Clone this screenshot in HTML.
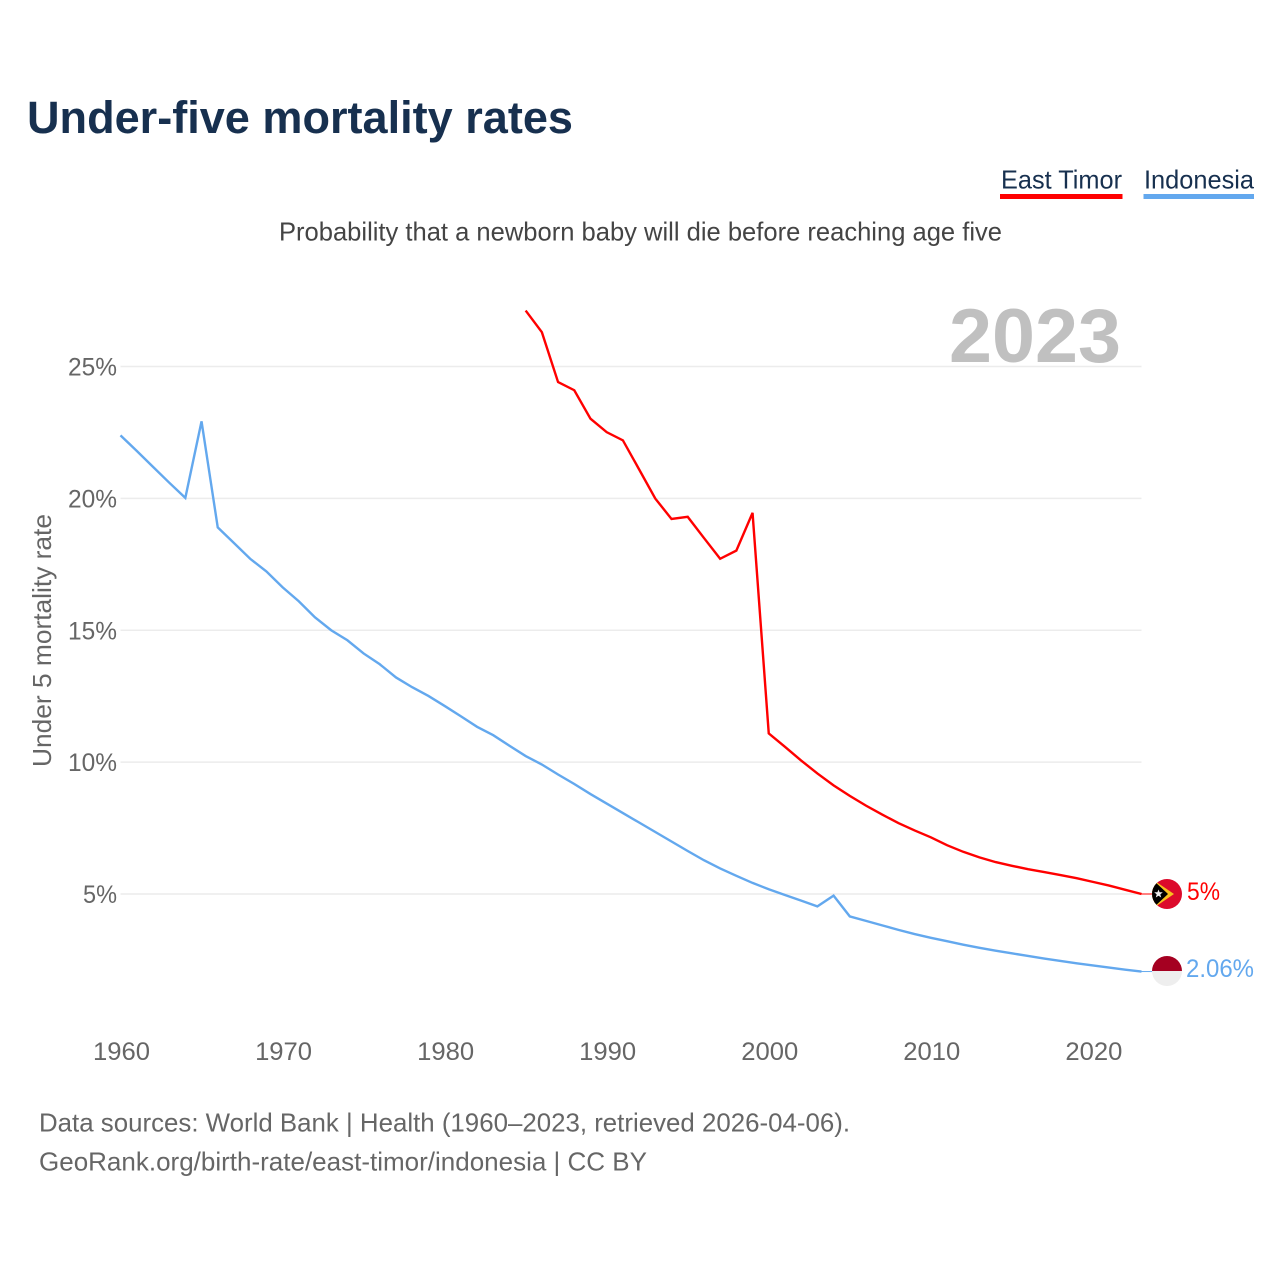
<!DOCTYPE html>
<html lang="en">
<head>
<meta charset="utf-8">
<title>Under-five mortality rates</title>
<style>
  html, body { margin: 0; padding: 0; background: #fff; }
  svg { display: block; font-family: "Liberation Sans", sans-serif; }
</style>
</head>
<body>
<svg id="chart" xmlns="http://www.w3.org/2000/svg" width="1280" height="1280" viewBox="0 0 1280 1280">
  <rect x="0" y="0" width="1280" height="1280" fill="#ffffff"/>
  <text x="27" y="133" font-size="45" font-weight="700" fill="#17304f" textLength="546" lengthAdjust="spacingAndGlyphs">Under-five mortality rates</text>
  <g>
    <text x="1001" y="188.500" font-size="26" fill="#17304f" textLength="121" lengthAdjust="spacingAndGlyphs">East Timor</text>
    <rect x="1000" y="194" width="122.500" height="5" fill="#ff0000"/>
  </g>
  <g>
    <text x="1144" y="188.500" font-size="26" fill="#17304f" textLength="110" lengthAdjust="spacingAndGlyphs">Indonesia</text>
    <rect x="1143.500" y="194" width="110.500" height="5" fill="#63a8ee"/>
  </g>
  <text x="279" y="240.500" font-size="26" fill="#444444" textLength="723" lengthAdjust="spacingAndGlyphs">Probability that a newborn baby will die before reaching age five</text>
  <g id="grid"></g>
  <text x="949" y="362" font-size="76" font-weight="700" fill="#c0c0c0" textLength="172" lengthAdjust="spacingAndGlyphs">2023</text>
  <g id="yticks"></g>
  <g id="xticks"></g>
  <text transform="translate(51,767) rotate(-90)" font-size="26" fill="#666666" textLength="253" lengthAdjust="spacingAndGlyphs">Under 5 mortality rate</text>
  <g id="series"></g>

  <defs>
    <clipPath id="timor-clip"><circle cx="1167" cy="894" r="15"/></clipPath>
    <clipPath id="indonesia-clip"><circle cx="1167" cy="971" r="15"/></clipPath>
  </defs>
  <g id="flag-east-timor" clip-path="url(#timor-clip)">
    <rect x="1152" y="879" width="30" height="30" fill="#dc0a2b"/>
    <polygon points="1152,879 1174,894 1152,909" fill="#f7c01e"/>
    <polygon points="1152,879 1168,894 1152,909" fill="#000000"/>
    <polygon points="1158.500,889.500 1159.600,892.300 1162.800,892.300 1160.300,894.400 1161.200,897.500 1158.500,895.800 1155.800,897.500 1156.700,894.400 1154.200,892.300 1157.400,892.300" fill="#eeeeee"/>
  </g>
  <g id="flag-indonesia" clip-path="url(#indonesia-clip)">
    <rect x="1152" y="956" width="30" height="15" fill="#a50021"/>
    <rect x="1152" y="971" width="30" height="15" fill="#eeeeee"/>
  </g>
  <text id="end-label-timor" x="1187" y="900" font-size="25" fill="#ff0000" textLength="33" lengthAdjust="spacingAndGlyphs">5%</text>
  <text id="end-label-indonesia" x="1186" y="977" font-size="25" fill="#63a8ee" textLength="68" lengthAdjust="spacingAndGlyphs">2.06%</text>

  <text x="39" y="1131.500" font-size="26" fill="#666666" textLength="811" lengthAdjust="spacingAndGlyphs">Data sources: World Bank | Health (1960–2023, retrieved 2026-04-06).</text>
  <text x="39" y="1170.500" font-size="26" fill="#666666" textLength="608" lengthAdjust="spacingAndGlyphs">GeoRank.org/birth-rate/east-timor/indonesia | CC BY</text>
</svg>
<script>
const years = [1960,1961,1962,1963,1964,1965,1966,1967,1968,1969,
  1970,1971,1972,1973,1974,1975,1976,1977,1978,1979,
  1980,1981,1982,1983,1984,1985,1986,1987,1988,1989,
  1990,1991,1992,1993,1994,1995,1996,1997,1998,1999,
  2000,2001,2002,2003,2004,2005,2006,2007,2008,2009,
  2010,2011,2012,2013,2014,2015,2016,2017,2018,2019,
  2020,2021,2022,2023];
const indonesia = [22.39,21.8,21.2,20.6,20.02,22.92,18.9,18.31,17.71,17.23,
  16.63,16.1,15.49,15.0,14.62,14.12,13.71,13.21,12.84,12.51,
  12.13,11.74,11.34,11.02,10.62,10.23,9.91,9.53,9.17,8.79,
  8.43,8.07,7.71,7.35,6.99,6.63,6.28,5.97,5.69,5.42,
  5.18,4.96,4.75,4.53,4.94,4.15,3.98,3.81,3.64,3.48,
  3.34,3.21,3.08,2.96,2.85,2.75,2.65,2.55,2.46,2.37,
  2.29,2.21,2.13,2.06];
const eastTimor = [null,null,null,null,null,null,null,null,null,null,
  null,null,null,null,null,null,null,null,null,null,
  null,null,null,null,null,27.12,26.3,24.41,24.1,23.02,
  22.51,22.2,21.1,19.99,19.22,19.3,18.5,17.71,18.02,19.45,
  11.09,10.58,10.06,9.57,9.12,8.72,8.35,8.01,7.69,7.41,
  7.15,6.85,6.6,6.39,6.21,6.07,5.94,5.83,5.72,5.6,
  5.46,5.32,5.16,5.0];
const yTicks = [5,10,15,20,25];
const xTicks = [1960,1970,1980,1990,2000,2010,2020];

const NS = 'http://www.w3.org/2000/svg';
const X0 = 120.500, X1 = 1141.500, Y5 = 894, Y25 = 366.5;
function xScale(year) { return X0 + (year - years[0]) * (X1 - X0) / (years[years.length - 1] - years[0]); }
function yScale(value) { return Y5 + (value - 5) * (Y25 - Y5) / 20; }
function make(tag, attrs, parent) {
  const el = document.createElementNS(NS, tag);
  for (const k in attrs) el.setAttribute(k, attrs[k]);
  parent.appendChild(el);
  return el;
}

const grid = document.getElementById('grid');
const yG = document.getElementById('yticks');
yTicks.forEach(function (t) {
  const line = make('line', {x1: X0, x2: X1, y1: yScale(t), y2: yScale(t), stroke: '#ececec', 'stroke-width': 1.5}, grid);
  
  
  const label = make('text', {x: 117, y: yScale(t) + 9, 'text-anchor': 'end', 'font-size': 25, fill: '#666666', textLength: (t < 10 ? 34 : 49), lengthAdjust: 'spacingAndGlyphs'}, yG);
  
  
  label.textContent = t + '%';
});

const xG = document.getElementById('xticks');
xTicks.forEach(function (t) {
  const label = make('text', {x: xScale(t) + 1, y: 1060, 'text-anchor': 'middle', 'font-size': 25, fill: '#666666', textLength: 57, lengthAdjust: 'spacingAndGlyphs'}, xG);
  
  
  label.textContent = String(t);
});

function drawSeries(values, color, name) {
  const pts = [];
  values.forEach(function (v, i) {
    if (v !== null) pts.push(xScale(years[i]).toFixed(2) + ',' + yScale(v).toFixed(2));
  });
  const g = document.getElementById('series');
  const path = make('polyline', {points: pts.join(' '), fill: 'none', stroke: color, 'stroke-width': 2.4, 'stroke-linejoin': 'miter'}, g);
  
  
  const lastY = yScale(values[values.length - 1]);
  const lead = make('line', {x1: X1, x2: 1153, y1: lastY, y2: lastY, stroke: color, 'stroke-width': 1}, g);
  
  
}
drawSeries(eastTimor, '#ff0000', 'east-timor');
drawSeries(indonesia, '#63a8ee', 'indonesia');
</script>
</body>
</html>
